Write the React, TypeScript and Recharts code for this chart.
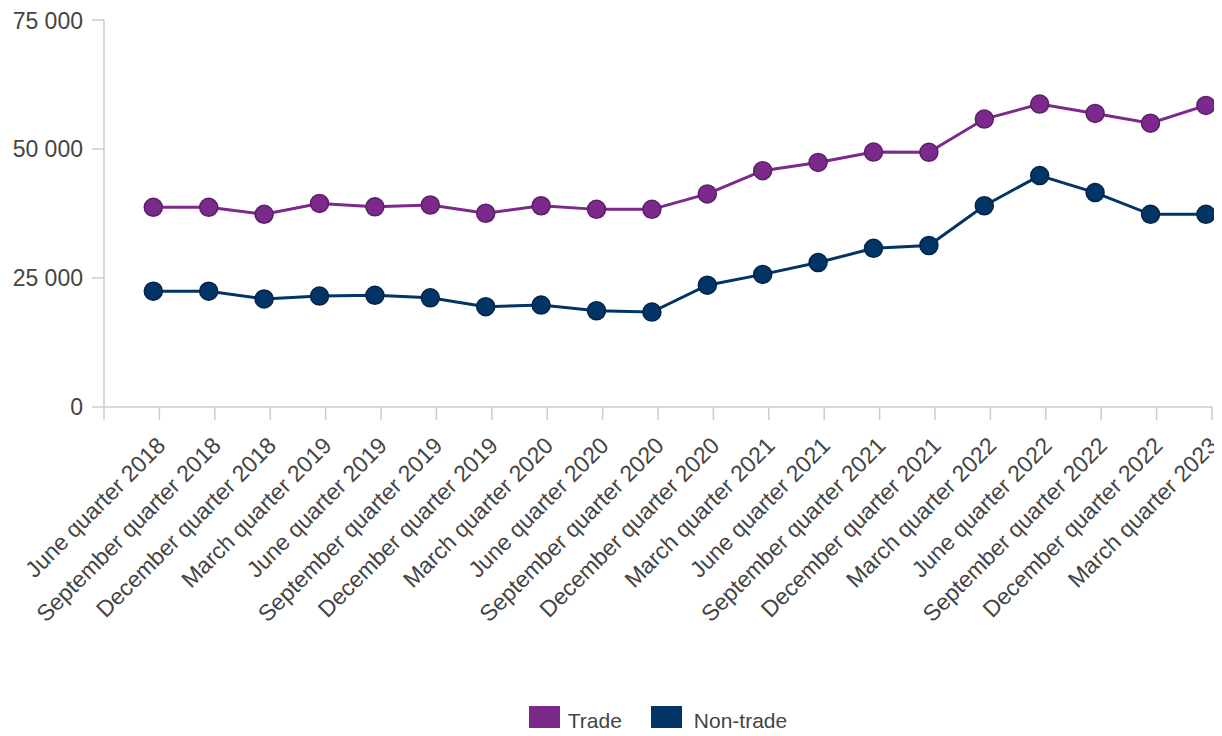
import React from 'react';
import { LineChart, Line, XAxis, YAxis, Legend } from 'recharts';

const quarters = [
  'June quarter 2018', 'September quarter 2018', 'December quarter 2018',
  'March quarter 2019', 'June quarter 2019', 'September quarter 2019', 'December quarter 2019',
  'March quarter 2020', 'June quarter 2020', 'September quarter 2020', 'December quarter 2020',
  'March quarter 2021', 'June quarter 2021', 'September quarter 2021', 'December quarter 2021',
  'March quarter 2022', 'June quarter 2022', 'September quarter 2022', 'December quarter 2022',
  'March quarter 2023',
];
const trade = [38700, 38700, 37350, 39450, 38800, 39150, 37550, 39000, 38300, 38300, 41300, 45800, 47400, 49400, 49350, 55800, 58700, 56900, 55000, 58450];
const nonTrade = [22450, 22450, 20950, 21500, 21650, 21150, 19450, 19750, 18650, 18400, 23600, 25700, 28000, 30750, 31300, 39000, 44850, 41550, 37350, 37350];
const yTicks = [0, 25000, 50000, 75000];

const data = quarters.map((q, i) => ({ quarter: q, trade: trade[i], nonTrade: nonTrade[i] }));

const FONT = '"Liberation Sans", Arial, Helvetica, sans-serif';
const PURPLE = '#7b2a8b';
const PURPLE_DARK = '#5c1d69';
const NAVY = '#023565';
const NAVY_DARK = '#01244a';
const AXIS = '#cccccc';
const TEXT = '#444444';
const PAD_LEFT = 49.3;
const PAD_RIGHT = 6.1;

const fmt = (v: number) => String(v).replace(/\B(?=(\d{3})+(?!\d))/g, ' ');

const XTick = (props: any) => {
  const { x, y, payload, index } = props;
  const px = x + 13.5;
  const py = y + 40;
  return (
    <g>
      {index === 0 && (
        <line x1={x - PAD_LEFT} x2={x - PAD_LEFT} y1={y} y2={y + 13} stroke={AXIS} strokeWidth={1.5} />
      )}
      <line x1={x + PAD_RIGHT} x2={x + PAD_RIGHT} y1={y} y2={y + 13} stroke={AXIS} strokeWidth={1.5} />
      <text
        x={px}
        y={py}
        textAnchor="end"
        fontSize={23}
        fontFamily={FONT}
        fill={TEXT}
        transform={`rotate(-45, ${px}, ${py})`}
      >
        {payload.value}
      </text>
    </g>
  );
};

const LegendContent = () => (
  <div
    style={{
      display: 'flex',
      justifyContent: 'center',
      alignItems: 'center',
      height: 30,
      fontFamily: FONT,
      fontSize: 21,
      color: TEXT,
    }}
  >
    <span style={{ display: 'inline-block', width: 31, height: 30, background: PURPLE, marginRight: 8 }} />
    <span>Trade</span>
    <span style={{ display: 'inline-block', width: 31, height: 30, background: NAVY, marginLeft: 29, marginRight: 12 }} />
    <span>Non-trade</span>
  </div>
);

export default function App() {
  return (
    <div style={{ width: 1214, height: 728, marginBottom: -8 }}>
      <LineChart width={1214} height={728} data={data} margin={{ top: 12, right: 10, left: 0, bottom: 0 }}>
        <XAxis
          dataKey="quarter"
          type="category"
          interval={0}
          padding={{ left: PAD_LEFT, right: PAD_RIGHT }}
          axisLine={{ stroke: AXIS, strokeWidth: 1.5 }}
          tickLine={false}
          tickSize={0}
          tickMargin={0}
          tick={<XTick />}
          height={299}
        />
        <YAxis
          domain={[0, 75000]}
          ticks={yTicks}
          tickFormatter={fmt}
          width={96}
          tickSize={12}
          tickMargin={9}
          axisLine={{ stroke: AXIS, strokeWidth: 1.5 }}
          tickLine={{ stroke: AXIS, strokeWidth: 1.5 }}
          tick={{ fontSize: 23, fontFamily: FONT, fill: TEXT }}
        />
        <Line
          dataKey="trade"
          name="Trade"
          stroke={PURPLE}
          strokeWidth={3}
          dot={{ r: 9, fill: PURPLE, stroke: PURPLE_DARK, strokeWidth: 1.5 }}
          isAnimationActive={false}
        />
        <Line
          dataKey="nonTrade"
          name="Non-trade"
          stroke={NAVY}
          strokeWidth={3}
          dot={{ r: 9, fill: NAVY, stroke: NAVY_DARK, strokeWidth: 1.5 }}
          isAnimationActive={false}
        />
        <Legend
          verticalAlign="bottom"
          content={<LegendContent />}
          wrapperStyle={{ left: 96, width: 1108, bottom: 0 }}
        />
      </LineChart>
    </div>
  );
}
